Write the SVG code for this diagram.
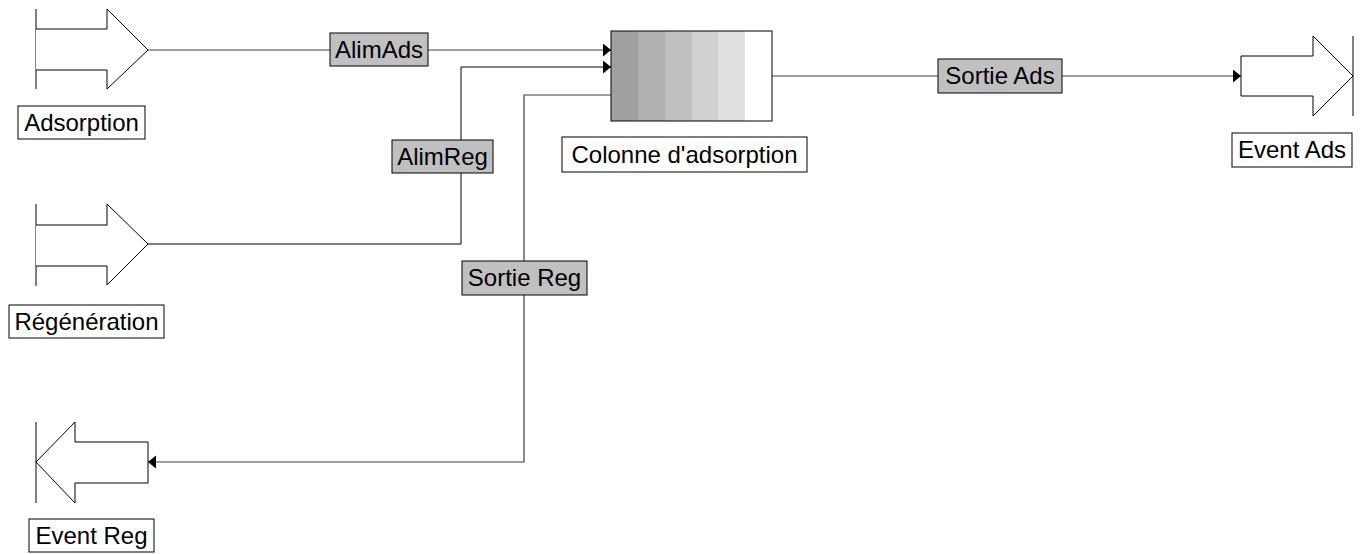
<svg xmlns="http://www.w3.org/2000/svg" width="1364" height="554" viewBox="0 0 1364 554">
<style>
.shape{fill:#fff;stroke:#000;stroke-width:1}
.bar{stroke:#000;stroke-width:1}
.lbl{fill:#fff;stroke:#000;stroke-width:1}
.tag{fill:#c0c0c0;stroke:#000;stroke-width:1}
.t{font-family:"Liberation Sans",Arial,sans-serif;font-size:24px;fill:#000;text-anchor:middle}
.c{fill:none;stroke:#000;stroke-width:1}
.g{fill:none;stroke:#404040;stroke-width:1.2}
</style>
<defs>
<marker id="ah" markerUnits="userSpaceOnUse" markerWidth="10" markerHeight="14" refX="8" refY="6.5" orient="auto">
<path d="M0,0 L8,6.5 L0,13 Z" fill="#000"/>
</marker>
</defs>
<rect width="1364" height="554" fill="#fff"/>
<g id="connectors">
<path class="g" d="M148,50 H611" marker-end="url(#ah)"/>
<path class="c" d="M148,244 H461 V67 H611" marker-end="url(#ah)"/>
<path class="g" d="M611,95 H524 V462 H148" marker-end="url(#ah)"/>
<path class="g" d="M772,76 H1241" marker-end="url(#ah)"/>
</g>
<g id="adsorption">
<line class="bar" x1="36" y1="9" x2="36" y2="89"/>
<polyline class="shape" points="36,29 107,29 107,9 148,50 107,89 107,70 36,70"/>
<rect class="lbl" x="18" y="106" width="127" height="33"/>
<text class="t" x="81.5" y="131">Adsorption</text>
</g>
<g id="regeneration">
<line class="bar" x1="36" y1="204" x2="36" y2="286"/>
<polyline class="shape" points="36,225 107,225 107,204 148,244 107,285 107,266 36,266"/>
<rect class="lbl" x="9" y="305" width="155" height="33"/>
<text class="t" x="86.5" y="330">Régénération</text>
</g>
<g id="event-reg">
<line class="bar" x1="36" y1="422" x2="36" y2="503"/>
<polygon class="shape" points="148,442 75,442 75,422 36,462 75,503 75,483 148,483"/>
<rect class="lbl" x="29" y="519" width="125" height="33"/>
<text class="t" x="91.5" y="544">Event Reg</text>
</g>
<g id="colonne">
<rect x="611" y="31" width="27" height="90" fill="#a0a0a0"/>
<rect x="638" y="31" width="27" height="90" fill="#b0b0b0"/>
<rect x="665" y="31" width="27" height="90" fill="#c0c0c0"/>
<rect x="692" y="31" width="26" height="90" fill="#d0d0d0"/>
<rect x="718" y="31" width="27" height="90" fill="#e0e0e0"/>
<rect x="745" y="31" width="27" height="90" fill="#ffffff"/>
<rect x="611" y="31" width="161" height="90" fill="none" stroke="#000" stroke-width="1"/>
<rect class="lbl" x="562" y="137" width="245" height="35"/>
<text class="t" x="684.5" y="163">Colonne d'adsorption</text>
</g>
<g id="event-ads">
<line class="bar" x1="1353" y1="36" x2="1353" y2="116"/>
<polygon class="shape" points="1241,56 1313,56 1313,36 1353,76 1313,116 1313,96 1241,96"/>
<rect class="lbl" x="1232" y="133" width="120" height="34"/>
<text class="t" x="1292" y="158">Event Ads</text>
</g>
<g id="tag-alimads">
<rect class="tag" x="330" y="33" width="98" height="33"/>
<text class="t" x="379" y="58">AlimAds</text>
</g>
<g id="tag-alimreg">
<rect class="tag" x="392" y="140" width="101" height="33"/>
<text class="t" x="442.5" y="165">AlimReg</text>
</g>
<g id="tag-sortiereg">
<rect class="tag" x="462" y="261" width="125" height="34"/>
<text class="t" x="524.5" y="286">Sortie Reg</text>
</g>
<g id="tag-sortieads">
<rect class="tag" x="938" y="59" width="124" height="34"/>
<text class="t" x="1000" y="84">Sortie Ads</text>
</g>
</svg>
